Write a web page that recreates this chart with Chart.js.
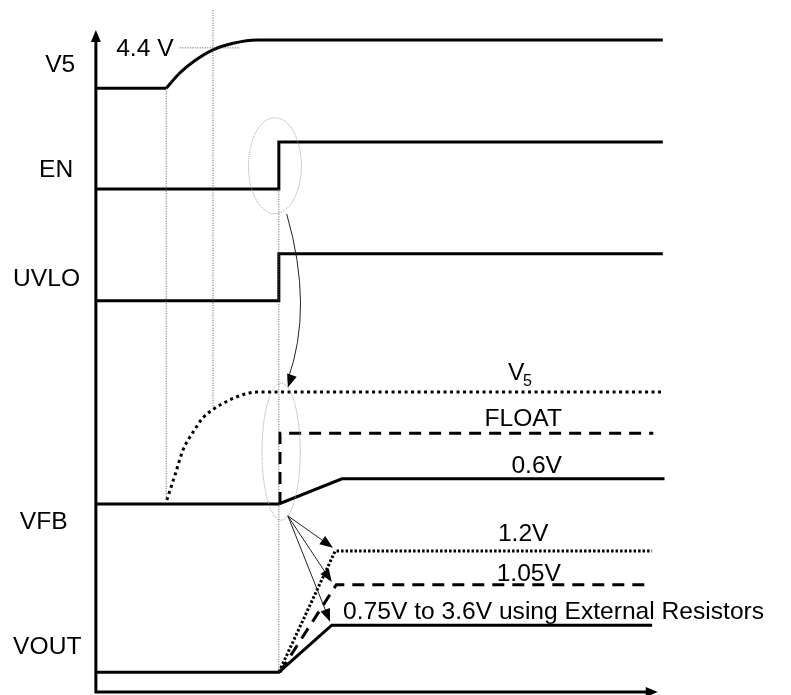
<!DOCTYPE html>
<html>
<head>
<meta charset="utf-8">
<script src="https://cdn.jsdelivr.net/npm/chart.js@4"></script>
<style>
  html, body { margin: 0; padding: 0; background: #fff; }
  canvas { display: block; }
</style>
</head>
<body>
<canvas id="myChart" width="791" height="695"></canvas>
<script>
// x: time (0..100), y: stacked trace level (0..100)
const v5Low = [[0, 91.2], [12.3, 91.2]];
const v5Rise = [[12.3, 91.2], [14.7, 93.5], [17.1, 95.2], [20.6, 97.0], [24.2, 98.0], [28.4, 98.5], [100.5, 98.5]];
const enTrace = [[0, 76.0], [32.3, 76.0], [32.3, 83.1], [100.5, 83.1]];
const uvloTrace = [[0, 59.1], [32.3, 59.1], [32.3, 66.2], [100.5, 66.2]];
const vfbV5 = [[12.4, 29.0], [13.9, 32.9], [15.3, 36.6], [17.1, 39.3], [18.8, 41.4], [20.8, 42.8], [23.3, 44.0], [25.9, 44.9], [28.4, 45.3], [100.5, 45.3]];
const vfbFloat = [[32.5, 28.4], [32.5, 39.1], [98.8, 39.1]];
const vfb06 = [[0, 28.4], [32.3, 28.4], [43.5, 32.2], [100.8, 32.2]];
const vout12 = [[32.3, 3.0], [42.3, 21.3], [98.6, 21.3]];
const vout105 = [[32.5, 3.0], [42.5, 16.2], [98.6, 16.2]];
const voutExt = [[0, 3.0], [32.3, 3.0], [41.7, 10.1], [98.6, 10.1]];

// thin dotted guides
const guideV5Start = [[12.3, 91.2], [12.3, 29.0]];
const guide44 = [[20.6, 103.0], [20.6, 43.0]];
const guide44Level = [[14.7, 97.3], [25.4, 97.3]];
const guideEn = [[32.3, 76.0], [32.3, 3.0]];

const signalNames = ['V5', 'EN', 'UVLO', 'VFB', 'VOUT'];
const levelTexts = ['4.4 V', 'FLOAT', '0.6V', '1.2V', '1.05V', '0.75V to 3.6V using External Resistors'];

const toXY = arr => arr.map(p => ({ x: p[0], y: p[1] }));

function trace(data, opts) {
  return Object.assign({
    data: toXY(data),
    borderColor: '#000',
    borderWidth: 3,
    pointRadius: 0,
    fill: false,
    tension: 0,
    clip: false,
    borderJoinStyle: 'miter',
    borderCapStyle: 'butt'
  }, opts || {});
}

const dotBig = { borderDash: [3, 3.5] };
const dashBig = { borderDash: [12, 8] };
const guide = { borderWidth: 1, borderColor: '#555', borderDash: [1, 1.5] };
const curve = { cubicInterpolationMode: 'monotone' };

const labelPlugin = {
  id: 'timingLabels',
  afterDatasetsDraw(chart) {
    const ctx = chart.ctx;
    const X = v => chart.scales.x.getPixelForValue(v);
    const Y = v => chart.scales.y.getPixelForValue(v);
    const font = '24.6px "Liberation Sans", Arial, sans-serif';

    function head(tx, ty, ang, len, wid) {
      ctx.save();
      ctx.translate(tx, ty);
      ctx.rotate(ang);
      ctx.beginPath();
      ctx.moveTo(0, 0);
      ctx.lineTo(-len, -wid / 2);
      ctx.lineTo(-len, wid / 2);
      ctx.closePath();
      ctx.fill();
      ctx.restore();
    }

    ctx.save();
    ctx.fillStyle = '#000';
    ctx.strokeStyle = '#000';

    // axes
    ctx.lineWidth = 3;
    ctx.beginPath();
    ctx.moveTo(X(-0.2), Y(0));
    ctx.lineTo(X(99.6) - 10, Y(0));
    ctx.moveTo(X(-0.2), Y(0) + 1.5);
    ctx.lineTo(X(-0.2), Y(100) + 10);
    ctx.stroke();
    head(X(99.6), Y(0), 0, 12, 10);
    head(X(-0.2), Y(100), -Math.PI / 2, 12, 10);

    // ellipses
    ctx.strokeStyle = '#999';
    ctx.lineWidth = 1;
    ctx.setLineDash([1, 1]);
    const ells = [[31.6, 79.5, 4.7, 7.25], [32.7, 36.3, 3.4, 10.35]];
    ells.forEach(e => {
      const cx = X(e[0]), cy = Y(e[1]);
      const rx = X(e[0] + e[2]) - cx, ry = cy - Y(e[1] + e[3]);
      ctx.beginPath();
      ctx.ellipse(cx, cy, rx, ry, 0, 0, Math.PI * 2);
      ctx.stroke();
    });
    ctx.setLineDash([]);

    // curved arrow from EN edge to VFB
    ctx.strokeStyle = '#222';
    ctx.fillStyle = '#000';
    ctx.lineWidth = 1;
    const p0 = [X(33.7), Y(72.2)], p1 = [X(38.5), Y(58.0)], p2 = [X(33.9), Y(46.0)];
    ctx.beginPath();
    ctx.moveTo(p0[0], p0[1]);
    ctx.quadraticCurveTo(p1[0], p1[1], p2[0], p2[1] - 8);
    ctx.stroke();
    head(p2[0], p2[1], Math.atan2(p2[1] - p1[1], p2[0] - p1[0]), 13, 10);

    // arrows from VFB start to VOUT levels
    const from = [X(33.9), Y(26.6)];
    [[41.9, 21.8], [41.7, 16.6], [41.4, 10.6]].forEach(t => {
      const tx = X(t[0]), ty = Y(t[1]);
      const ang = Math.atan2(ty - from[1], tx - from[0]);
      ctx.beginPath();
      ctx.moveTo(from[0], from[1]);
      ctx.lineTo(tx - 10 * Math.cos(ang), ty - 10 * Math.sin(ang));
      ctx.stroke();
      head(tx, ty, ang, 13, 10);
    });

    // texts
    ctx.fillStyle = '#000';
    ctx.font = font;
    ctx.textBaseline = 'alphabetic';
    ctx.textAlign = 'left';
    const nameAt = [[-9.2, 93.7], [-10.3, 77.8], [-14.9, 61.3], [-13.7, 24.6], [-14.9, 5.7]];
    signalNames.forEach((s, i) => ctx.fillText(s, X(nameAt[i][0]), Y(nameAt[i][1])));

    ctx.fillText(levelTexts[0], X(3.4), Y(96.1));
    ctx.textAlign = 'center';
    ctx.fillText(levelTexts[1], X(75.7), Y(40.2));
    ctx.fillText(levelTexts[2], X(78.1), Y(33.1));
    ctx.fillText(levelTexts[3], X(75.7), Y(22.8));
    ctx.fillText(levelTexts[4], X(76.7), Y(16.8));
    ctx.textAlign = 'left';
    ctx.fillText(levelTexts[5], X(43.7), Y(11.0));

    // V with subscript 5
    ctx.fillText('V', X(73.0), Y(47.1));
    ctx.font = '16px "Liberation Sans", Arial, sans-serif';
    ctx.fillText('5', X(73.0) + 15, Y(47.1) + 6);
    ctx.restore();
  }
};

const config = {
  type: 'line',
  data: {
    datasets: [
      trace(guideV5Start, guide),
      trace(guide44, guide),
      trace(guide44Level, guide),
      trace(guideEn, guide),
      trace(v5Low),
      trace(v5Rise, curve),
      trace(enTrace),
      trace(uvloTrace),
      trace(vfbV5, Object.assign({}, dotBig, curve)),
      trace(vfbFloat, dashBig),
      trace(vfb06),
      trace(vout12, { borderDash: [2.5, 2], borderWidth: 3 }),
      trace(vout105, dashBig),
      trace(voutExt)
    ]
  },
  options: {
    responsive: false,
    animation: false,
    layout: { padding: { left: 97, right: 131, top: 30, bottom: 3 } },
    plugins: { legend: { display: false }, tooltip: { enabled: false } },
    scales: {
      x: { type: 'linear', min: 0, max: 100, display: false },
      y: { type: 'linear', min: 0, max: 100, display: false }
    }
  },
  plugins: [labelPlugin]
};

const myChart = new Chart(document.getElementById('myChart'), config);
</script>
</body>
</html>
